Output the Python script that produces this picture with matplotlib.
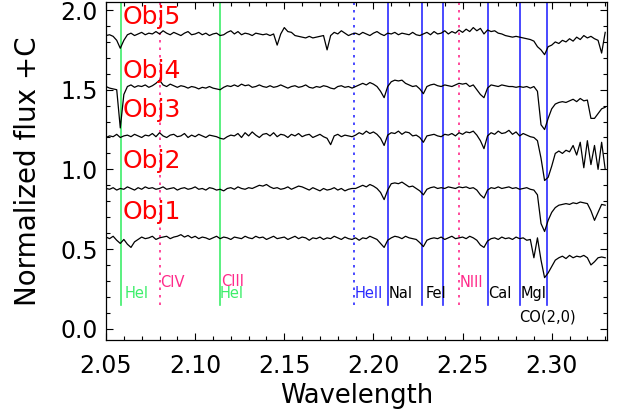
import numpy as np
import matplotlib
matplotlib.use("Agg")
import matplotlib.pyplot as plt
from matplotlib.ticker import MultipleLocator, FormatStrFormatter

# Wavelength grid (micron), 2.050 .. 2.330 in 0.002 steps
wave_start, wave_step, n_pix = 2.050, 0.002, 141

# Normalised spectra for each object
obj1 = [1.005, 0.995, 1.01, 0.985, 0.965, 0.99, 0.96, 0.94, 0.975, 0.99,
        1.005, 0.995, 1.0, 1.01, 0.99, 1.0, 1.005, 1.01, 0.995, 1.005,
        1.01, 1.02, 1.005, 1.015, 1.0, 1.01, 0.995, 1.005, 1.0, 0.99,
        1.0, 1.01, 0.995, 1.005, 1.0, 0.99, 1.005, 1.0, 0.995, 1.01,
        1.0, 0.995, 1.01, 1.0, 1.005, 0.99, 1.0, 1.01, 0.995, 1.0,
        1.005, 0.99, 1.0, 1.01, 0.995, 1.005, 1.0, 0.985, 1.0, 0.995,
        1.005, 0.99, 1.0, 0.995, 1.01, 1.0, 0.99, 1.005, 0.995, 0.99,
        1.0, 0.985, 1.0, 0.995, 1.01, 1.0, 0.99, 0.965, 0.94, 0.985,
        1.0, 1.01, 1.005, 0.995, 1.01, 1.0, 0.995, 0.99, 0.97, 0.945,
        0.985, 0.995, 1.0, 0.995, 1.005, 0.99, 1.0, 1.01, 0.995, 1.0,
        1.005, 0.995, 1.01, 1.0, 0.985, 0.955, 0.94, 0.98, 0.995, 1.0,
        0.99, 1.005, 0.995, 1.0, 0.99, 1.005, 0.995, 1.0, 0.985, 0.99,
        0.875, 1.0, 0.86, 0.75, 0.78, 0.82, 0.86, 0.875, 0.885, 0.87,
        0.89, 0.875, 0.885, 0.88, 0.89, 0.875, 0.83, 0.85, 0.875, 0.88, 0.875]

obj2 = [1.0, 0.995, 1.005, 0.99, 1.0, 0.995, 1.01, 1.0, 0.99, 1.005,
        0.995, 1.01, 1.0, 1.005, 0.995, 1.0, 1.01, 0.995, 1.0, 1.005,
        0.99, 1.0, 1.005, 0.995, 1.0, 1.01, 0.995, 1.0, 0.99, 1.005,
        1.0, 0.99, 0.995, 0.985, 1.0, 1.005, 0.995, 1.01, 1.0, 0.995,
        1.005, 1.0, 1.01, 1.02, 1.015, 1.025, 1.01, 1.0, 1.005, 0.995,
        1.0, 1.01, 0.995, 1.005, 1.015, 1.01, 1.0, 0.99, 1.005, 0.995,
        0.985, 1.0, 0.99, 0.995, 1.005, 0.99, 1.0, 0.985, 0.995, 1.0,
        1.0, 1.01, 1.02, 1.01, 1.025, 1.015, 1.0, 0.975, 0.93, 0.99,
        1.03, 1.035, 1.03, 1.04, 1.025, 1.01, 1.015, 1.0, 0.985, 0.96,
        0.995, 1.005, 1.01, 1.0, 1.005, 1.0, 1.01, 1.005, 1.0, 1.01,
        1.005, 1.01, 1.0, 1.005, 0.99, 0.96, 0.94, 0.99, 1.005, 1.0,
        1.01, 1.0, 1.005, 1.01, 1.0, 1.005, 0.995, 1.0, 1.005, 0.995,
        0.99, 0.96, 0.78, 0.73, 0.80, 0.85, 0.88, 0.895, 0.90, 0.905,
        0.90, 0.91, 0.905, 0.915, 0.91, 0.905, 0.86, 0.80, 0.85, 0.90, 0.895]

obj3 = [0.99, 1.0, 0.995, 1.01, 0.99, 1.0, 1.005, 0.995, 1.01, 1.0,
        0.99, 1.005, 1.0, 1.015, 0.995, 1.02, 1.0, 0.99, 1.005, 1.01,
        0.995, 1.0, 1.015, 0.99, 1.005, 0.995, 1.01, 1.0, 0.99, 1.005,
        1.0, 0.995, 0.985, 0.98, 0.995, 1.005, 1.0, 1.015, 0.99, 1.02,
        1.0, 1.025, 1.005, 0.99, 1.01, 1.015, 1.0, 1.02, 0.995, 1.01,
        1.005, 0.99, 1.01, 1.0, 1.015, 0.995, 1.005, 1.01, 0.99, 1.0,
        1.01, 0.995, 0.985, 0.945, 1.0, 1.01, 0.995, 1.005, 1.0, 0.995,
        1.005, 1.02, 1.01, 1.03, 1.015, 1.025, 1.01, 0.985, 0.94, 1.005,
        1.02, 1.015, 1.03, 1.01, 1.025, 1.02, 1.0, 1.005, 0.99, 0.96,
        1.0, 1.005, 1.01, 1.0, 0.995, 1.01, 1.005, 1.015, 1.0, 1.02,
        1.01, 1.025, 1.02, 1.03, 1.005, 0.97, 0.92, 1.0, 1.02, 1.01,
        1.03, 1.015, 1.02, 1.035, 1.01, 1.025, 1.0, 1.015, 1.005, 0.995,
        0.99, 0.97, 0.86, 0.72, 0.74, 0.81, 0.89, 0.905, 0.89, 0.91,
        0.90, 0.94, 0.88, 0.96, 0.80, 0.97, 0.82, 0.94, 0.79, 0.96, 0.79]

obj4 = [1.0, 0.99, 0.985, 0.98, 0.74, 0.95, 1.0, 1.01, 0.995, 1.005,
        1.0, 1.01, 0.995, 1.005, 1.02, 1.04, 1.01, 1.0, 1.015, 1.005,
        0.995, 1.005, 1.0, 0.99, 1.0, 0.995, 0.985, 0.995, 0.99, 1.0,
        0.99, 0.985, 0.98, 0.995, 1.005, 1.0, 1.01, 1.0, 1.015, 1.005,
        1.01, 0.995, 1.0, 1.01, 1.0, 0.995, 1.005, 0.995, 1.0, 1.01,
        1.0, 0.99, 1.0, 1.005, 0.995, 1.0, 1.01, 0.995, 0.99, 1.0,
        0.995, 1.005, 1.0, 0.99, 0.985, 1.0, 1.005, 0.995, 1.0, 0.99,
        1.0, 1.01, 1.02, 1.01, 1.025, 1.015, 1.0, 0.97, 0.93, 1.0,
        1.03, 1.04, 1.035, 1.04, 1.02, 1.01, 1.0, 1.005, 0.985, 0.955,
        1.0, 1.01, 1.015, 1.005, 1.0, 1.01, 1.005, 1.0, 1.01, 1.02,
        1.015, 1.02, 1.0, 1.01, 0.98, 0.95, 0.93, 0.99, 1.01, 1.005,
        1.0, 1.01, 1.005, 1.0, 1.0, 0.995, 1.0, 0.995, 1.0, 0.99,
        1.0, 0.97, 0.76, 0.73, 0.80, 0.86, 0.89, 0.90, 0.905, 0.90,
        0.91, 0.92, 0.905, 0.925, 0.91, 0.915, 0.80, 0.80, 0.83, 0.86, 0.87]

obj5 = [0.99, 0.995, 0.985, 0.96, 0.91, 0.96, 0.995, 1.005, 0.99, 1.0,
        1.01, 0.995, 1.005, 1.0, 1.015, 1.0, 1.02, 1.005, 0.995, 1.01,
        1.0, 0.99, 1.005, 1.015, 0.995, 1.0, 1.01, 0.995, 1.005, 0.99,
        1.0, 1.005, 0.99, 0.995, 1.01, 1.02, 1.0, 1.015, 0.995, 1.005,
        1.0, 0.99, 1.005, 1.0, 0.995, 1.0, 0.99, 1.0, 0.93, 1.0,
        1.04, 1.015, 1.01, 0.99, 0.985, 0.98, 0.975, 0.985, 0.975, 0.98,
        0.985, 0.99, 0.90, 0.99, 1.01, 1.0, 1.02, 1.005, 0.99, 1.0,
        1.005, 0.995, 1.01, 1.0, 0.99, 1.005, 1.015, 1.0, 0.99, 1.005,
        1.0, 1.01, 0.995, 1.005, 1.0, 0.995, 1.01, 0.995, 0.99, 1.0,
        1.01, 0.995, 1.015, 1.0, 1.005, 1.02, 1.0, 1.015, 1.005, 1.025,
        1.01, 1.03, 1.015, 1.04, 1.02, 1.035, 1.0, 1.025, 1.015, 1.02,
        1.005, 1.0, 0.99, 0.985, 0.98, 0.985, 0.98, 0.975, 0.97, 0.965,
        0.955, 0.92, 0.90, 0.87, 0.92, 0.93, 0.95, 0.94, 0.96, 0.95,
        0.97, 0.955, 0.98, 0.965, 0.99, 0.975, 0.985, 0.97, 0.96, 0.88, 1.01]

spectra = [obj1, obj2, obj3, obj4, obj5]
names = ["Obj1", "Obj2", "Obj3", "Obj4", "Obj5"]
offsets = [-0.43, -0.12, 0.21, 0.52, 0.85]
name_y = [0.73, 1.05, 1.37, 1.62, 1.955]

# Line identifications: marker wavelength and drawing style
line_waves = [2.0583, 2.0800, 2.1137, 2.1893, 2.2080, 2.2270, 2.2393, 2.2478, 2.2644, 2.2824, 2.2976]
line_kinds = ["he1", "em", "he1", "he2", "abs", "abs", "abs", "em", "abs", "abs", "abs"]

# Identification labels
tag_texts = ["HeI", "CIV", "CIII", "HeI", "HeII", "NaI", "FeI", "NIII", "CaI", "MgI", "CO(2,0)"]
tag_x = [2.0605, 2.0805, 2.1145, 2.1140, 2.1893, 2.2083, 2.2295, 2.2485, 2.2645, 2.2825, 2.2975]
tag_y = [0.222, 0.292, 0.295, 0.222, 0.222, 0.222, 0.222, 0.292, 0.222, 0.222, 0.075]
tag_kind = ["he1", "em", "em", "he1", "he2", "txt", "txt", "em", "txt", "txt", "txt"]

GREEN = "#3dee6a"
PINK = "#ff2a8a"
BLUE = "#2a2aff"
styles = {
    "he1": dict(color=GREEN, ls="-"),
    "em": dict(color=PINK, ls=(0, (1.5, 3))),
    "he2": dict(color=BLUE, ls=(0, (1.5, 3))),
    "abs": dict(color=BLUE, ls="-"),
}
text_col = {"he1": GREEN, "em": PINK, "he2": BLUE, "txt": "black"}

wave = wave_start + wave_step * np.arange(n_pix)

fig = plt.figure(figsize=(6.2, 4.19), dpi=100)
ax = fig.add_axes([0.171, 0.189, 0.808, 0.806])

for flux, c in zip(spectra, offsets):
    ax.plot(wave, np.asarray(flux) + c, color="black", lw=0.9, zorder=3)

for w, k in zip(line_waves, line_kinds):
    ax.plot([w, w], [0.15, 2.2], lw=1.2, zorder=2, **styles[k])

for t, x, y, k in zip(tag_texts, tag_x, tag_y, tag_kind):
    ax.text(x, y, t, color=text_col[k], fontsize=10.5,
            ha="center" if t == "CO(2,0)" else "left", va="center", zorder=4)

for n, y in zip(names, name_y):
    ax.text(2.0595, y, n, color="red", fontsize=18, va="center", ha="left", zorder=5)

ax.set_xlim(2.05, 2.331)
ax.set_ylim(-0.07, 2.05)
ax.xaxis.set_major_locator(MultipleLocator(0.05))
ax.xaxis.set_minor_locator(MultipleLocator(0.01))
ax.yaxis.set_major_locator(MultipleLocator(0.5))
ax.yaxis.set_minor_locator(MultipleLocator(0.1))
ax.xaxis.set_major_formatter(FormatStrFormatter("%.2f"))
ax.yaxis.set_major_formatter(FormatStrFormatter("%.1f"))
ax.tick_params(which="both", direction="in", top=True, right=True, labelsize=17)
ax.tick_params(which="major", length=5, width=0.8)
ax.tick_params(which="minor", length=3, width=0.8)
ax.tick_params(axis="x", which="major", pad=10)
ax.tick_params(axis="y", which="major", pad=6)
for s in ax.spines.values():
    s.set_linewidth(0.9)

ax.set_xlabel("Wavelength", fontsize=18.5, labelpad=4)
ax.set_ylabel("Normalized flux +C", fontsize=20, labelpad=13)

fig.savefig("out.png", dpi=100)
